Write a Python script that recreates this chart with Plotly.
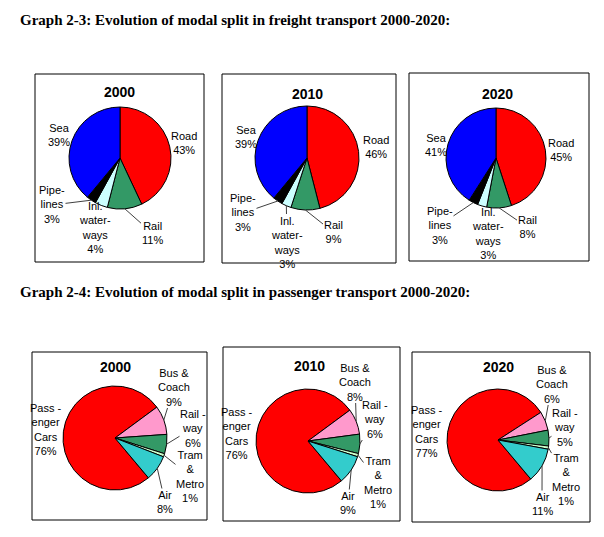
import math
import plotly.graph_objects as go

W, H = 604, 537

# ---------------- data ----------------
freight_modes = ["Road", "Rail", "Inl. waterways", "Pipelines", "Sea"]
freight_labels = ["Road", "Rail", "Inl.<br>water-<br>ways", "Pipe-<br>lines", "Sea"]
freight_colors = ["#FF0000", "#339966", "#CCFFFF", "#000000", "#0000FF"]
freight_2000 = [43, 11, 4, 3, 39]
freight_2010 = [46, 9, 3, 3, 39]
freight_2020 = [45, 8, 3, 3, 41]

pass_modes = ["Passenger Cars", "Bus & Coach", "Railway", "Tram & Metro", "Air"]
pass_labels = ["Pass -<br>enger<br>Cars", "Bus &<br>Coach", "Rail -<br>way", "Tram<br>&<br>Metro", "Air"]
pass_colors = ["#FF0000", "#FF99CC", "#339966", "#CCFFCC", "#33CCCC"]
pass_2000 = [76, 9, 6, 1, 8]
pass_2010 = [76, 8, 6, 1, 9]
pass_2020 = [77, 6, 5, 1, 11]

years = ["2000", "2010", "2020"]

# ---------------- layout (pixels) ----------------
panels = [
    dict(vals=freight_2000, names=freight_modes, labs=freight_labels, cols=freight_colors, rot=0,
         c=(120, 158), r=51, box=(35, 74, 204, 262), yt=(120, 92),
         lp=[(184, 143), (152, 233), (95, 228), (52, 205), (59, 135)],
         lead=[False, True, True, True, False]),
    dict(vals=freight_2010, names=freight_modes, labs=freight_labels, cols=freight_colors, rot=0,
         c=(307, 158), r=52, box=(222, 74, 396, 263), yt=(307, 94),
         lp=[(376, 147), (333, 232), (287, 242), (243, 213), (246, 137)],
         lead=[False, True, True, True, False]),
    dict(vals=freight_2020, names=freight_modes, labs=freight_labels, cols=freight_colors, rot=0,
         c=(496, 158), r=50, box=(409, 73, 589, 261), yt=(497, 94),
         lp=[(561, 150), (527, 227), (488, 233), (440, 225), (436, 145)],
         lead=[False, True, True, True, False]),
    dict(vals=pass_2000, names=pass_modes, labs=pass_labels, cols=pass_colors, rot=140,
         c=(115, 438), r=52, box=(32, 352, 207, 520), yt=(115, 367),
         lp=[(46, 429), (174, 387), (193, 428), (190, 476), (165, 502)],
         lead=[False, True, True, True, True]),
    dict(vals=pass_2010, names=pass_modes, labs=pass_labels, cols=pass_colors, rot=140,
         c=(308, 441), r=52, box=(223, 347, 400, 521), yt=(309, 366),
         lp=[(237, 433), (355, 382), (375, 419), (378, 482), (348, 503)],
         lead=[False, True, True, True, True]),
    dict(vals=pass_2020, names=pass_modes, labs=pass_labels, cols=pass_colors, rot=140,
         c=(498, 440), r=51, box=(412, 352, 590, 522), yt=(498, 367),
         lp=[(427, 431), (552, 384), (565, 427), (566, 479), (542, 504)],
         lead=[False, True, True, True, True]),
]


def px(x):
    return x / W


def py(y):
    return 1 - y / H


fig = go.Figure()
shapes = []
annotations = []

for i, p in enumerate(panels):
    cx, cy = p["c"]
    r = p["r"]
    fig.add_trace(go.Pie(
        values=p["vals"], labels=p["names"], sort=False, direction="clockwise",
        rotation=p["rot"], textinfo="none", textposition="none", showlegend=False,
        marker=dict(colors=p["cols"], line=dict(color="#000000", width=1)),
        domain=dict(x=[px(cx - r), px(cx + r)], y=[py(cy + r), py(cy - r)]),
    ))
    x0, y0, x1, y1 = p["box"]
    shapes.append(dict(type="rect", xref="paper", yref="paper",
                       x0=px(x0), x1=px(x1), y0=py(y1), y1=py(y0),
                       line=dict(color="#000000", width=1)))
    annotations.append(dict(text="<b>%s</b>" % years[i % 3], xref="paper", yref="paper",
                            x=px(p["yt"][0]), y=py(p["yt"][1]), showarrow=False,
                            xanchor="center", yanchor="middle",
                            font=dict(family="Arial, Liberation Sans", size=14, color="#000")))
    total = sum(p["vals"])
    cum = 0
    for v, lab, (lx, ly), lead in zip(p["vals"], p["labs"], p["lp"], p["lead"]):
        ang = math.radians(p["rot"] + 360 * (cum + v / 2) / total)
        cum += v
        axp = cx + r * math.sin(ang)
        ayp = cy - r * math.cos(ang)
        annotations.append(dict(
            text="%s<br>%d%%" % (lab, v), xref="paper", yref="paper",
            x=px(axp), y=py(ayp), ax=lx - axp, ay=ly - ayp,
            showarrow=True, arrowhead=0, arrowwidth=1, standoff=0, startstandoff=0,
            arrowcolor="#404040" if lead else "rgba(0,0,0,0)",
            align="center", borderpad=0,
            font=dict(family="Arial, Liberation Sans", size=11, color="#000")))

annotations.append(dict(text="<b>Graph 2-3: Evolution of modal split in freight transport 2000-2020:</b>",
                        xref="paper", yref="paper", x=px(18), y=py(20), xanchor="left", yanchor="middle",
                        showarrow=False,
                        font=dict(family="Times New Roman, Liberation Serif", size=15, color="#000")))
annotations.append(dict(text="<b>Graph 2-4: Evolution of modal split in passenger transport 2000-2020:</b>",
                        xref="paper", yref="paper", x=px(18), y=py(292), xanchor="left", yanchor="middle",
                        showarrow=False,
                        font=dict(family="Times New Roman, Liberation Serif", size=15, color="#000")))

fig.update_layout(width=W, height=H, margin=dict(l=0, r=0, t=0, b=0),
                  paper_bgcolor="white", plot_bgcolor="white",
                  shapes=shapes, annotations=annotations)

fig.write_html("out.html", config={"displayModeBar": False},
               post_script="document.body.style.margin='0';")
